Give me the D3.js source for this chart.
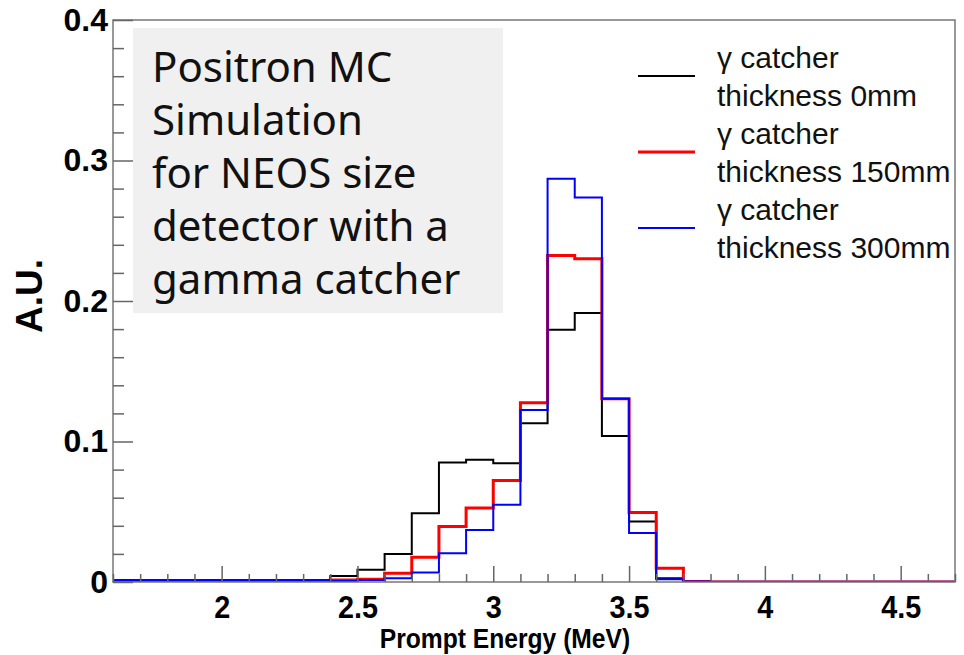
<!DOCTYPE html>
<html>
<head>
<meta charset="utf-8">
<script src="https://cdn.jsdelivr.net/npm/d3@7"></script>
<style>
  body { margin: 0; background: #fff; }
  svg { display: block; }
</style>
</head>
<body>
<svg id="chart"></svg>
<script>
// Bin lower edges (MeV), bin width 0.1
const binEdges = [1.6, 1.7, 1.8, 1.9, 2.0, 2.1, 2.2, 2.3, 2.4, 2.5, 2.6, 2.7, 2.8, 2.9, 3.0, 3.1,
  3.2, 3.3, 3.4, 3.5, 3.6, 3.7, 3.8, 3.9, 4.0, 4.1, 4.2, 4.3, 4.4, 4.5, 4.6];
const binWidth = 0.1;

// gamma catcher thickness 0mm
const values0mm = [0.001, 0.001, 0.001, 0.001, 0.001, 0.001, 0.001, 0.0015, 0.0042, 0.0088, 0.020, 0.049,
  0.085, 0.087, 0.0845, 0.113, 0.1795, 0.1914, 0.104, 0.043, 0.0026, 0.0003, 0, 0, 0, 0, 0, 0, 0, 0, 0];
// gamma catcher thickness 150mm
const values150mm = [0.0004, 0.0004, 0.0004, 0.0004, 0.0004, 0.001, 0.0004, 0.0004, 0.0014, 0.002, 0.0062, 0.0177,
  0.0395, 0.0526, 0.0723, 0.1276, 0.2324, 0.230, 0.1305, 0.0495, 0.0098, 0.0003, 0, 0, 0, 0, 0, 0, 0, 0, 0];
// gamma catcher thickness 300mm
const values300mm = [0.0014, 0.0014, 0.0014, 0.0014, 0.0014, 0.0014, 0.0014, 0.0014, 0.0008, 0.0014, 0.0026, 0.0068,
  0.0205, 0.037, 0.055, 0.1224, 0.287, 0.2736, 0.1305, 0.0348, 0.0019, 0.0003, 0.0002, 0.0002, 0.0002, 0.0002,
  0.0002, 0.0002, 0.0002, 0.0002, 0.0002];

const seriesNames = ["0mm", "150mm", "300mm"];
const seriesColors = ["#000000", "#ff0000", "#0000ff"];
const seriesWidths = [2, 3, 2];
const seriesValues = [values0mm, values150mm, values300mm];

const xMajorTicks = [2, 2.5, 3, 3.5, 4, 4.5];
const yMajorTicks = [0, 0.1, 0.2, 0.3, 0.4];
const noteLines = ["Positron MC", "Simulation", "for NEOS size", "detector with a", "gamma catcher"];

const W = 964, H = 655;
const frame = {left: 113, right: 955, top: 20, bottom: 582};

const svg = d3.select("#chart").attr("width", W).attr("height", H);

const x = d3.scaleLinear()
  .domain([1.6, 4.7])
  .range([frame.left, frame.right]);

const y = d3.scaleLinear()
  .domain([0, 0.4])
  .range([frame.bottom, frame.top]);

// Note box
const note = svg.append("g");
note.append("rect")
  .attr("x", 133).attr("y", 28)
  .attr("width", 370).attr("height", 285)
  .attr("fill", "#f0f0f0");
note.selectAll("text")
  .data(noteLines)
  .join("text")
  .attr("x", 152)
  .attr("y", (d, i) => 82 + i * 53)
  .attr("font-family", "'Noto Sans', 'Open Sans', sans-serif")
  .attr("font-size", 42)
  .attr("fill", "#111")
  .text(d => d);

// Histograms
const line = d3.line()
  .x(d => x(d[0]))
  .y(d => y(d[1]))
  .curve(d3.curveStepAfter);

svg.append("defs").append("clipPath").attr("id", "clip")
  .append("rect")
  .attr("x", frame.left).attr("y", frame.top - 5)
  .attr("width", frame.right - frame.left).attr("height", frame.bottom - frame.top + 5);

const hist = svg.append("g").attr("clip-path", "url(#clip)");
[0, 1, 2].forEach(s => {
  const vals = seriesValues[s];
  const pts = binEdges.map((e, i) => [e, vals[i]]);
  pts.push([binEdges[binEdges.length - 1] + binWidth, vals[vals.length - 1]]);
  hist.append("path")
    .attr("d", line(pts))
    .attr("fill", "none")
    .attr("stroke", seriesColors[s])
    .attr("stroke-width", seriesWidths[s]);
});

// Frame
svg.append("rect")
  .attr("x", frame.left).attr("y", frame.top)
  .attr("width", frame.right - frame.left).attr("height", frame.bottom - frame.top)
  .attr("fill", "none")
  .attr("stroke", "#777")
  .attr("stroke-width", 1.5);

// X axis
const xMinor = d3.range(16, 48).map(d => d / 10).filter(d => !xMajorTicks.includes(d));
svg.append("g")
  .attr("transform", `translate(0,${frame.bottom})`)
  .call(d3.axisBottom(x).tickValues(xMinor).tickSize(-8).tickFormat(""))
  .call(g => g.select(".domain").remove())
  .call(g => g.selectAll("line").attr("stroke", "#666").attr("stroke-width", 1.5));

const xAxis = svg.append("g")
  .attr("transform", `translate(0,${frame.bottom})`)
  .call(d3.axisBottom(x).tickValues(xMajorTicks).tickSize(-16).tickFormat(d3.format("~g")));
xAxis.select(".domain").remove();
xAxis.selectAll("line").attr("stroke", "#666").attr("stroke-width", 1.5);
xAxis.selectAll("text")
  .attr("y", 36).attr("dy", null)
  .attr("transform", "scale(0.9,1)")
  .attr("font-family", "'Liberation Sans', Arial, sans-serif")
  .attr("font-weight", "bold")
  .attr("font-size", 32)
  .attr("fill", "#000");

// Y axis
const yMinor = d3.range(0, 21).map(d => d * 0.02).filter(d => Math.abs(d * 10 - Math.round(d * 10)) > 1e-6);
svg.append("g")
  .attr("transform", `translate(${frame.left},0)`)
  .call(d3.axisLeft(y).tickValues(yMinor).tickSize(-11).tickFormat(""))
  .call(g => g.select(".domain").remove())
  .call(g => g.selectAll("line").attr("stroke", "#666").attr("stroke-width", 1.5));

const yAxis = svg.append("g")
  .attr("transform", `translate(${frame.left},0)`)
  .call(d3.axisLeft(y).tickValues(yMajorTicks).tickSize(-20)
    .tickFormat(d => d === 0 ? "0" : d3.format(".1f")(d)));
yAxis.select(".domain").remove();
yAxis.selectAll("line").attr("stroke", "#666").attr("stroke-width", 1.5);
yAxis.selectAll("text")
  .attr("x", -5)
  .attr("font-family", "'Liberation Sans', Arial, sans-serif")
  .attr("font-weight", "bold")
  .attr("font-size", 32)
  .attr("fill", "#000");

// Axis titles
svg.append("text")
  .attr("transform", "translate(505,648) scale(0.88,1)")
  .attr("text-anchor", "middle")
  .attr("font-family", "'Liberation Sans', Arial, sans-serif")
  .attr("font-weight", "bold")
  .attr("font-size", 28)
  .text("Prompt Energy (MeV)");

svg.append("text")
  .attr("transform", "translate(42,296) rotate(-90)")
  .attr("text-anchor", "middle")
  .attr("font-family", "'Liberation Sans', Arial, sans-serif")
  .attr("font-weight", "bold")
  .attr("font-size", 37)
  .text("A.U.");

// Legend
const legend = svg.append("g");
seriesNames.forEach((name, i) => {
  const base = 68 + i * 76;
  legend.append("line")
    .attr("x1", 638).attr("x2", 695)
    .attr("y1", base + 8).attr("y2", base + 8)
    .attr("stroke", seriesColors[i])
    .attr("stroke-width", seriesWidths[i]);
  const t = legend.append("text")
    .attr("font-family", "'Liberation Sans', Arial, sans-serif")
    .attr("font-size", 30)
    .attr("fill", "#111");
  t.append("tspan").attr("x", 717).attr("y", base).text("γ catcher");
  t.append("tspan").attr("x", 717).attr("y", base + 38).text("thickness " + name);
});
</script>
</body>
</html>
